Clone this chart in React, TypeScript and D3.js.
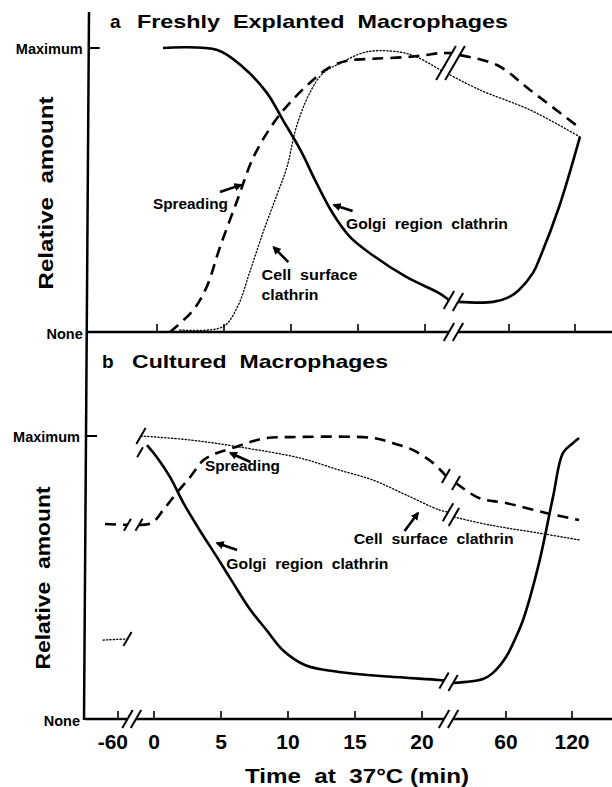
import React, { useEffect, useRef } from 'react';
import * as d3 from 'd3';

type Pt = [number, number];

const W = 612;
const H = 787;

// time at 37°C (min); axis is broken between -60/0 and 20/60
const ticksA = [0, 5, 10, 15, 20, 60, 120];
const ticksB = [-60, 0, 5, 10, 15, 20, 60, 120];

// ---- a  Freshly explanted macrophages (relative amount, 0 = None, 1 = Maximum)
const golgiA: Pt[][] = [
  [[0.45, 1.0], [4.5, 0.993], [6.4, 0.933], [8.2, 0.842], [9.4, 0.746], [10.7, 0.641], [11.9, 0.525],
   [13.1, 0.419], [14.4, 0.335], [16.1, 0.27], [18.6, 0.194], [26.7, 0.137], [31.4, 0.113]],
  [[35.7, 0.106], [52.4, 0.106], [60, 0.123], [69.1, 0.148], [81.8, 0.208], [87.3, 0.254],
   [105.5, 0.44], [124.5, 0.687]],
];
const spreadingA: Pt[][] = [
  [[0.97, 0], [2.7, 0.077], [3.7, 0.158], [4.7, 0.299], [6.0, 0.465], [7.2, 0.616], [8.7, 0.736],
   [9.9, 0.806], [11.4, 0.877], [12.9, 0.933], [14.2, 0.955], [16.1, 0.962], [18.6, 0.968],
   [20, 0.975], [27.1, 0.982], [32.4, 0.982]],
  [[36.7, 0.975], [54.3, 0.94], [79.1, 0.852], [124.5, 0.718]],
];
const surfaceA: Pt[][] = [
  [[1.7, 0.007], [4.9, 0.018], [6.0, 0.088], [6.9, 0.208], [7.9, 0.349], [9.0, 0.489], [9.7, 0.581],
   [10.4, 0.722], [11.4, 0.842], [12.4, 0.912], [13.7, 0.947], [15.6, 0.986], [18.1, 0.986],
   [19.4, 0.968], [28.3, 0.918]],
  [[32, 0.905], [46.2, 0.852], [79.1, 0.782], [124.5, 0.687]],
];
// break marks on curves: [t, v, half height px]
const breaksA: [number, number, number][] = [
  [30, 0.947, 17], [34.3, 0.947, 17],
  [31.4, 0.113, 9], [35.7, 0.106, 9],
];
const axisBreaksA = [31.4, 35.7];

// ---- b  Cultured macrophages
const golgiB: Pt[][] = [
  [[-11.7, 0.968], [0.2, 0.926], [1.2, 0.855], [2.2, 0.763], [3.4, 0.668], [4.7, 0.572], [5.9, 0.481],
   [7.2, 0.385], [8.4, 0.314], [9.6, 0.244], [11.3, 0.19], [13.8, 0.166], [17.5, 0.15],
   [28.1, 0.138], [30.5, 0.136]],
  [[34.8, 0.127], [49, 0.141], [53.8, 0.163], [60, 0.219], [69.1, 0.29], [75.5, 0.35], [90, 0.551],
   [102.7, 0.784], [111.8, 0.94], [120.9, 0.975], [126.4, 0.993]],
];
const spreadingB: Pt[][] = [
  [[-81.7, 0.689], [-44.2, 0.686]],
  [[-25, 0.686], [-3.3, 0.693], [0.7, 0.739], [1.7, 0.799], [2.7, 0.855], [3.7, 0.915], [4.7, 0.94],
   [5.9, 0.958], [7.2, 0.979], [8.4, 0.993], [10.1, 0.996], [16.3, 0.993], [17.8, 0.975],
   [19.3, 0.951], [25.2, 0.905], [31.4, 0.859]],
  [[36.2, 0.834], [47.1, 0.781], [60, 0.763], [96.4, 0.728], [126.4, 0.703]],
];
const surfaceB: Pt[][] = [
  [[-85, 0.279], [-44.2, 0.283]],
  [[-21.7, 1.0], [2.7, 0.986], [6.4, 0.961], [10.9, 0.922], [13.8, 0.88], [16.3, 0.845],
   [18.8, 0.792], [28.1, 0.739], [32.4, 0.731]],
  [[35.2, 0.714], [51.9, 0.686], [90, 0.657], [126.4, 0.633]],
];
const breaksB: [number, number, number][] = [
  [-44.2, 0.686, 6], [-25, 0.686, 6], [31.4, 0.859, 7], [36.2, 0.834, 7],
  [-44.2, 0.283, 7], [-21.7, 1.0, 8], [32.4, 0.731, 9], [35.2, 0.714, 9],
  [-23.3, 0.943, 5], [30.5, 0.136, 8], [34.8, 0.127, 8],
];
const axisBreaksB = [-44.2, -30, 30.5, 34.8];

// annotations: text start (t, v) and arrow tail -> head
const labelsA = [
  { text: 'Spreading', t: -0.3, v: 0.433, w: 75 },
  { text: 'Golgi  region  clathrin', t: 14.1, v: 0.363, w: 162 },
  { text: 'Cell  surface', t: 7.8, v: 0.183, w: 96 },
  { text: 'clathrin', t: 7.8, v: 0.113, w: 57 },
];
const arrowsA: [Pt, Pt][] = [
  [[4.7, 0.493], [6.27, 0.518]],
  [[14.6, 0.426], [13.2, 0.447]],
  [[9.8, 0.246], [8.7, 0.299]],
];
const labelsB = [
  { text: 'Spreading', t: 3.8, v: 0.876, w: 75 },
  { text: 'Golgi  region  clathrin', t: 5.4, v: 0.53, w: 162 },
  { text: 'Cell  surface  clathrin', t: 14.9, v: 0.618, w: 160 },
];
const arrowsB: [Pt, Pt][] = [
  [[7.2, 0.908], [5.7, 0.94]],
  [[6.2, 0.597], [4.7, 0.622]],
  [[18.7, 0.664], [19.7, 0.728]],
];

const FONT = '"Liberation Sans", Arial, Helvetica, sans-serif';

const App: React.FC = () => {
  const svgRef = useRef<SVGSVGElement>(null);

  useEffect(() => {
    if (!svgRef.current) return;
    const svg = d3.select(svgRef.current);
    svg.selectAll('*').remove();

    const defs = svg.append('defs');
    defs.append('marker')
      .attr('id', 'head')
      .attr('viewBox', '0 0 10 10')
      .attr('refX', 8).attr('refY', 5)
      .attr('markerWidth', 3.2).attr('markerHeight', 3.2)
      .attr('markerUnits', 'strokeWidth')
      .attr('orient', 'auto')
      .append('path').attr('d', 'M0,0 L10,5 L0,10 Z').attr('fill', '#000');

    const xA = d3.scaleLinear().domain([0, 20, 60, 120]).range([157, 425, 509, 575]);
    const xB = d3.scaleLinear().domain([-60, 0, 20, 60, 120]).range([118, 154, 422, 506, 572]);
    const yA = d3.scaleLinear().domain([0, 1]).range([332, 48]);
    const yB = d3.scaleLinear().domain([0, 1]).range([719, 436]);

    const styles: Record<string, { w: number; dash: string | null }> = {
      solid: { w: 2.6, dash: null },
      dashed: { w: 2.6, dash: '11 7' },
      dotted: { w: 1.3, dash: '1.3 2.1' },
    };

    // left axis (one continuous line for both panels)
    svg.append('line')
      .attr('x1', 89).attr('y1', 12).attr('x2', 84).attr('y2', 720)
      .attr('stroke', '#000').attr('stroke-width', 2.5);

    const slash = (g: any, cx: number, cy: number, h: number) => {
      g.append('line')
        .attr('x1', cx - h * 0.58).attr('y1', cy + h)
        .attr('x2', cx + h * 0.58).attr('y2', cy - h)
        .attr('stroke', '#000').attr('stroke-width', 2);
    };

    const drawPanel = (
      x: d3.ScaleLinear<number, number>,
      y: d3.ScaleLinear<number, number>,
      axisX0: number,
      ticks: number[],
      axisBreaks: number[],
      series: { segs: Pt[][]; style: string }[],
      breaks: [number, number, number][],
      labels: { text: string; t: number; v: number; w: number }[],
      arrows: [Pt, Pt][],
    ) => {
      const g = svg.append('g');
      const y0 = y(0);

      // bottom axis with breaks
      const edges = [axisX0, ...axisBreaks.map(t => x(t)), W];
      for (let i = 0; i < edges.length; i += 2) {
        g.append('line')
          .attr('x1', edges[i]).attr('x2', edges[i + 1])
          .attr('y1', y0).attr('y2', y0)
          .attr('stroke', '#000').attr('stroke-width', 2.5);
      }
      axisBreaks.forEach(t => slash(g, x(t), y0, 9));

      g.selectAll('.tick').data(ticks).enter().append('line')
        .attr('x1', d => x(d)).attr('x2', d => x(d))
        .attr('y1', y0).attr('y2', y0 - 8)
        .attr('stroke', '#000').attr('stroke-width', 1.6);

      // Maximum tick
      const ax = 89 - (y(1) - 12) * 5 / 708;
      g.append('line')
        .attr('x1', ax).attr('x2', ax + 11)
        .attr('y1', y(1)).attr('y2', y(1))
        .attr('stroke', '#000').attr('stroke-width', 2);

      g.append('text').text('Maximum')
        .attr('x', ax - 6).attr('y', y(1) + 5.5)
        .attr('text-anchor', 'end')
        .attr('font-family', FONT).attr('font-weight', 'bold').attr('font-size', 14.5);
      g.append('text').text('None')
        .attr('x', ax - 6).attr('y', y0 + 7)
        .attr('text-anchor', 'end')
        .attr('font-family', FONT).attr('font-weight', 'bold').attr('font-size', 14.5);

      const line = d3.line<Pt>()
        .x(d => x(d[0]))
        .y(d => y(d[1]))
        .curve(d3.curveCatmullRom.alpha(0.5));

      series.forEach(s => {
        const st = styles[s.style];
        s.segs.forEach(seg => {
          g.append('path')
            .datum(seg)
            .attr('d', line)
            .attr('fill', 'none')
            .attr('stroke', '#000')
            .attr('stroke-width', st.w)
            .attr('stroke-dasharray', st.dash)
            .attr('stroke-linecap', s.style === 'dotted' ? 'round' : 'butt');
        });
      });

      breaks.forEach(([t, v, h]) => slash(g, x(t), y(v), h));

      labels.forEach(l => {
        g.append('text').text(l.text)
          .attr('x', x(l.t)).attr('y', y(l.v))
          .attr('textLength', l.w).attr('lengthAdjust', 'spacingAndGlyphs')
          .style('white-space', 'pre')
          .attr('font-family', FONT).attr('font-weight', 'bold').attr('font-size', 14.5);
      });

      arrows.forEach(([a, b]) => {
        g.append('line')
          .attr('x1', x(a[0])).attr('y1', y(a[1]))
          .attr('x2', x(b[0])).attr('y2', y(b[1]))
          .attr('stroke', '#000').attr('stroke-width', 2.6)
          .attr('marker-end', 'url(#head)');
      });
      return g;
    };

    drawPanel(xA, yA, 88, ticksA, axisBreaksA,
      [{ segs: golgiA, style: 'solid' }, { segs: spreadingA, style: 'dashed' }, { segs: surfaceA, style: 'dotted' }],
      breaksA, labelsA, arrowsA);

    const gB = drawPanel(xB, yB, 85, ticksB, axisBreaksB,
      [{ segs: golgiB, style: 'solid' }, { segs: spreadingB, style: 'dashed' }, { segs: surfaceB, style: 'dotted' }],
      breaksB, labelsB, arrowsB);

    // tick labels (bottom panel only)
    gB.selectAll('.lbl').data(ticksB).enter().append('text')
      .text(d => String(d))
      .attr('x', d => (d === -60 ? xB(d) + 10 : xB(d)))
      .attr('y', 749)
      .attr('text-anchor', d => (d === -60 ? 'end' : 'middle'))
      .attr('font-family', FONT).attr('font-weight', 'bold').attr('font-size', 21);

    svg.append('text').text('Time  at  37°C (min)')
      .attr('x', 245).attr('y', 783)
      .attr('textLength', 224).attr('lengthAdjust', 'spacingAndGlyphs')
      .style('white-space', 'pre')
      .attr('font-family', FONT).attr('font-weight', 'bold').attr('font-size', 20);

    // panel titles
    const title = (letter: string, lx: number, rest: string, rx: number, w: number, by: number) => {
      svg.append('text').text(letter).attr('x', lx).attr('y', by)
        .attr('font-family', FONT).attr('font-weight', 'bold').attr('font-size', 19);
      svg.append('text').text(rest).attr('x', rx).attr('y', by)
        .attr('textLength', w).attr('lengthAdjust', 'spacingAndGlyphs')
        .style('white-space', 'pre')
        .attr('font-family', FONT).attr('font-weight', 'bold').attr('font-size', 19);
    };
    title('a', 110, 'Freshly  Explanted  Macrophages', 137, 371, 28);
    title('b', 102, 'Cultured  Macrophages', 132, 256, 368);

    // y axis titles
    [[53, 193, 193], [50, 578, 183]].forEach(([bx, cy, len]) => {
      svg.append('text').text('Relative  amount')
        .attr('transform', `translate(${bx},${cy}) rotate(-90)`)
        .attr('text-anchor', 'middle')
        .attr('textLength', len).attr('lengthAdjust', 'spacingAndGlyphs')
        .style('white-space', 'pre')
        .attr('font-family', FONT).attr('font-weight', 'bold').attr('font-size', 21);
    });
  }, []);

  return (
    <svg
      ref={svgRef}
      width={W}
      height={H}
      style={{ position: 'absolute', left: 0, top: 0, background: '#fff' }}
    />
  );
};

export default App;
